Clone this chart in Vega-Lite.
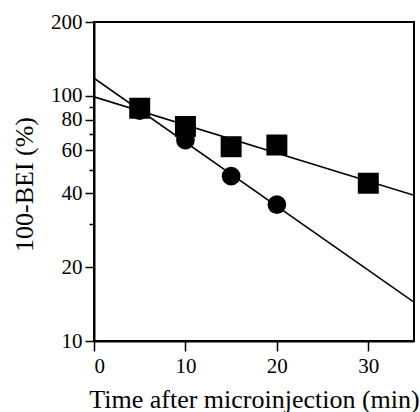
{
  "$schema": "https://vega.github.io/schema/vega-lite/v6.json",
  "width": 320,
  "height": 319,
  "autosize": "none",
  "padding": {"left": 94, "top": 22, "right": 6, "bottom": 71},
  "background": "white",
  "config": {
    "font": "Liberation Serif",
    "view": {"stroke": "black", "strokeWidth": 2},
    "axis": {
      "labelFont": "Liberation Serif",
      "titleFont": "Liberation Serif",
      "labelColor": "black",
      "titleColor": "black",
      "domainColor": "black",
      "tickColor": "black",
      "grid": false,
      "domainWidth": 2,
      "tickWidth": 1.5,
      "labelFontSize": 21,
      "titleFontSize": 26,
      "titleFontWeight": "normal"
    }
  },
  "datasets": {
    "pts": [
      {"time": 5, "value": 87, "series": "circle"},
      {"time": 10, "value": 66, "series": "circle"},
      {"time": 15, "value": 47, "series": "circle"},
      {"time": 20, "value": 36, "series": "circle"},
      {"time": 5, "value": 89, "series": "square"},
      {"time": 10, "value": 75, "series": "square"},
      {"time": 15, "value": 62, "series": "square"},
      {"time": 20, "value": 63, "series": "square"},
      {"time": 30, "value": 44, "series": "square"}
    ],
    "fits": [
      {"time": 0, "value": 118, "series": "circle"},
      {"time": 35, "value": 14.4, "series": "circle"},
      {"time": 0, "value": 99, "series": "square"},
      {"time": 35, "value": 39.3, "series": "square"}
    ]
  },
  "layer": [
    {
      "data": {"name": "fits"},
      "mark": {"type": "line", "color": "black", "strokeWidth": 1.6, "clip": true},
      "encoding": {
        "x": {"field": "time", "type": "quantitative",
              "scale": {"domain": [0, 35], "nice": false, "zero": false},
              "axis": {"values": [0, 10, 20, 30], "tickSize": 10, "labelPadding": 4,
                       "title": "Time after microinjection (min)",
                       "titleY": 66, "titleBaseline": "alphabetic"}},
        "y": {"field": "value", "type": "quantitative",
              "scale": {"type": "log", "domain": [10, 200], "nice": false},
              "axis": {"values": [10, 20, 30, 40, 50, 60, 70, 80, 90, 100, 200],
                       "labelExpr": "indexof([30,50,70,90], datum.value) >= 0 ? '' : datum.label",
                       "tickSize": {"condition": {"test": "indexof([30,50,70,90], datum.value) >= 0", "value": 5}, "value": 9},
                       "labelPadding": 3,
                       "title": "100-BEI (%)",
                       "titleX": -62, "titleY": 162, "titleBaseline": "alphabetic"}},
        "detail": {"field": "series"}
      }
    },
    {
      "data": {"name": "pts"},
      "mark": {"type": "point", "filled": true, "opacity": 1, "color": "black"},
      "encoding": {
        "x": {"field": "time", "type": "quantitative"},
        "y": {"field": "value", "type": "quantitative"},
        "shape": {"field": "series", "type": "nominal",
                  "scale": {"domain": ["circle", "square"], "range": ["circle", "square"]},
                  "legend": null},
        "size": {"field": "series", "type": "nominal",
                 "scale": {"domain": ["circle", "square"], "range": [350, 440]},
                 "legend": null}
      }
    }
  ]
}
